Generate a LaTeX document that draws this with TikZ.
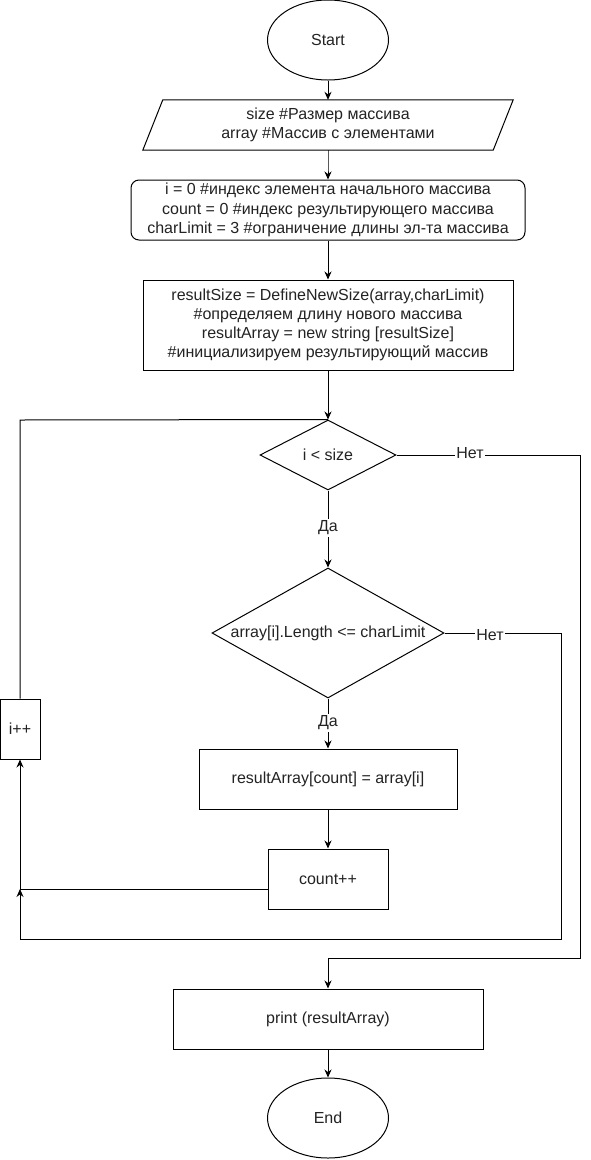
\documentclass[tikz,border=0pt]{standalone}
\usepackage{fontspec}
\setmainfont{Liberation Sans}
\usetikzlibrary{shapes.geometric,arrows.meta}
\definecolor{txt}{RGB}{35,35,35}
\begin{document}
\begin{tikzpicture}[x=1pt,y=-1pt,
  every node/.style={font=\fontsize{16}{19.2}\selectfont, text=txt},
  base/.style={draw=black, line width=1pt, inner sep=0pt, align=center},
  term/.style={base, ellipse, minimum width=121pt, minimum height=80pt},
  proc/.style={base, rectangle},
  dec/.style={base, diamond},
  arr/.style={line width=1pt, -{Stealth[length=8pt,width=7pt]}},
  ln/.style={line width=1pt},
  lbl/.style={fill=white, inner sep=1.5pt}]
\fill[white] (0,0) rectangle (590,1160);
\useasboundingbox (0,0) rectangle (590,1160);

% nodes
\node[term] (start) at (328,40) {Start};
\node[inner sep=0pt, minimum width=350pt, minimum height=50pt, align=center] (inp) at (328,125)
  {size \#Размер массива\\array \#Массив с элементами};
\draw[ln] ([xshift=10pt]inp.north west) -- ([xshift=10pt]inp.north east)
  -- ([xshift=-10pt]inp.south east) -- ([xshift=-10pt]inp.south west) -- cycle;
\node[base, rounded corners=8pt, minimum width=394pt, minimum height=60pt] (init) at (328,210)
  {i = 0 \#индекс элемента начального массива\\count = 0 \#индекс результирующего массива\\charLimit = 3 \#ограничение длины эл-та массива};
\node[proc, minimum width=370pt, minimum height=90pt] (def) at (328,325)
  {resultSize = DefineNewSize(array,charLimit)\\\#определяем длину нового массива\\resultArray = new string [resultSize]\\\#инициализируем результирующий массив};
\node[dec, minimum width=136pt, minimum height=70pt] (d1) at (328,455) {\makebox[0pt]{i < size}};
\node[dec, minimum width=232pt, minimum height=130pt] (d2) at (328,633) {\makebox[0pt]{array[i].Length <= charLimit}};
\node[proc, minimum width=258pt, minimum height=60pt] (rai) at (328,779) {resultArray[count] = array[i]};
\node[proc, minimum width=120pt, minimum height=60pt] (cnt) at (328,879) {count++};
\node[proc, minimum width=40pt, minimum height=60pt] (inc) at (20,729) {i++};
\node[proc, minimum width=310pt, minimum height=60pt] (prt) at (328,1019) {print (resultArray)};
\node[term] (end) at (328,1118) {End};

% waypoints
\coordinate (j) at (20,889);
\coordinate (r1) at (580,958);
\coordinate (r2) at (561,939);
\coordinate (lp) at (20,420);

% connectors
\draw[arr] (start) -- (inp);
\draw[arr] (inp.south) -- ([yshift=10pt]init.north) -- (init.north);
\draw[arr] (init) -- (def);
\draw[arr] (def) -- (d1.north);
\draw[ln] (inc.north) -- (lp) -- (d1.north);
\draw[arr] (d1.south) -- (d2.north);
\draw[arr] (d1.east) -| (r1) -| (prt.north);
\draw[arr] (d2.south) -- (rai.north);
\draw[arr] (d2.east) -| (r2) -| (j);
\draw[arr] (rai) -- (cnt);
\draw[arr] (cnt.west |- j) -- (j) -- (inc.south);
\draw[arr] (prt) -- (end);

% edge labels
\node[lbl] (l1) at (328,528) {Да};
\node[lbl] (l2) at (470,453) {Нет};
\node[lbl] (l3) at (328,723) {Да};
\node[lbl] (l4) at (490,635) {Нет};
\end{tikzpicture}
\end{document}
